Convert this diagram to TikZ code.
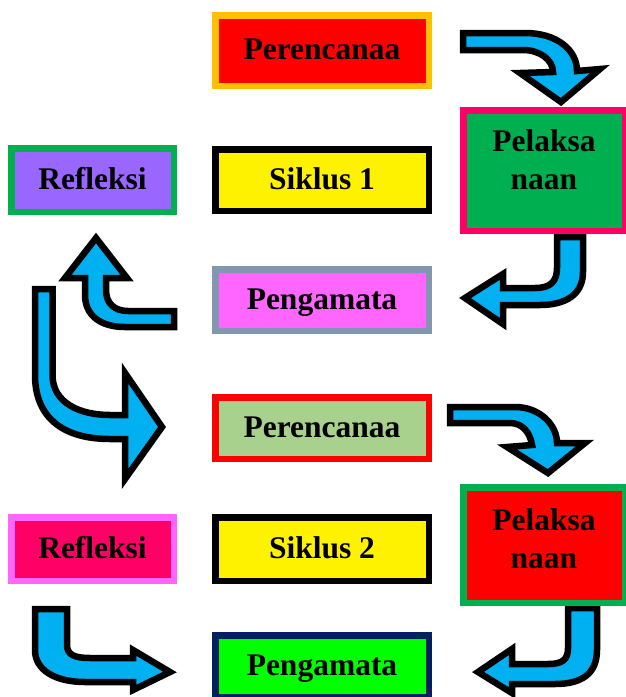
\documentclass[tikz,border=0pt]{standalone}
\usepackage{fontspec}
\setmainfont{Liberation Serif}
\usepackage{xcolor}
\usepackage{tikz}
\usetikzlibrary{positioning}

\definecolor{arrowblue}{HTML}{00B0F0}
\definecolor{gold}{HTML}{FFC000}
\definecolor{leaf}{HTML}{00B050}
\definecolor{violet}{HTML}{9966FF}
\definecolor{rose}{HTML}{FF0066}
\definecolor{pinkish}{HTML}{FF66FF}
\definecolor{slate}{HTML}{8497B0}
\definecolor{sage}{HTML}{A9D18E}
\definecolor{navy}{HTML}{002060}
\definecolor{lime}{HTML}{00FF00}

\begin{document}
\begin{tikzpicture}[
  x=1pt, y=-1pt,
  node distance=35pt,
  boxbase/.style={draw, line width=6.5pt, align=center,
    font=\fontsize{31.5}{38}\selectfont\bfseries, inner sep=0pt},
  box/.style={boxbase, minimum width=213.5pt, minimum height=61.5pt,
    text height=24pt, text depth=6pt},
  sidebox/.style={box, minimum width=162.5pt, minimum height=63.5pt},
  bigbox/.style={boxbase, minimum width=161.5pt},
  bent/.style={fill=arrowblue, draw=black, line width=6.5pt, line join=miter}
]
\useasboundingbox (0,0) rectangle (626,697);

\draw[bent] (463,33) -- (525,33) .. controls (557,33) and (577,50) .. (577,71)
  -- (600,69) -- (561,102) -- (520,73) -- (553,72)
  .. controls (553,60) and (540,50) .. (523,50) -- (463,50) -- cycle;
\draw[bent] (557,237) -- (583,237) -- (583,272)
  .. controls (583,295) and (565,305) .. (540,305) -- (503,305) -- (503,324)
  -- (465,298) -- (503,274) -- (503,288) -- (535,288)
  .. controls (550,288) and (557,282) .. (557,268) -- cycle;
\draw[bent] (174,311) -- (128,311) .. controls (114,311) and (106,303) .. (106,290)
  -- (106,278) -- (127,278) -- (96,238) -- (65,278) -- (85,278) -- (85,295)
  .. controls (85,315) and (100,327) .. (125,327) -- (174,327) -- cycle;
\draw[bent] (35,289) -- (52.5,289) -- (52.5,375)
  .. controls (52.5,403) and (80,415) .. (110,415) -- (125,415) -- (125,373)
  -- (162,427) -- (125,479) -- (125,439) -- (110,439)
  .. controls (60,439) and (35,415) .. (35,375) -- cycle;
\draw[bent] (450,407) -- (515,407) .. controls (540,407) and (557,425) .. (557,443)
  -- (585,443) -- (548,473) -- (507,447) -- (532,445)
  .. controls (530,432) and (522,423) .. (510,423) -- (450,423) -- cycle;
\draw[bent] (568,608) -- (597,608) -- (597,650)
  .. controls (597,675) and (580,684) .. (555,684) -- (512,684) -- (512,693)
  -- (478,672) -- (512,649) -- (512,664) -- (548,664)
  .. controls (562,664) and (568,660) .. (568,648) -- cycle;
\draw[bent] (35,609) -- (67,609) -- (67,645) .. controls (67,655) and (75,658) .. (90,658)
  -- (133,658) -- (133,650) -- (170,672) -- (133,690) -- (133,682) -- (85,682)
  .. controls (55,682) and (35,670) .. (35,650) -- cycle;

\node[box, draw=gold, fill=red, minimum height=70.5pt] (plan1) at (322,50.5) {Perencanaa};
\node[box, draw=black, fill=yellow] (cycle1) at (322,180) {Siklus 1};
\node[sidebox, draw=leaf, fill=violet, left=of cycle1] (reflect1) {Refleksi};
\node[bigbox, draw=rose, fill=leaf, minimum height=120.5pt] (act1) at (544,170.5)
  {Pelaksa\\naan\rule[-22pt]{0pt}{22pt}};
\node[box, draw=slate, fill=pinkish] (observe1) at (322,300) {Pengamata};

\node[box, draw=red, fill=sage] (plan2) at (322,428) {Perencanaa};
\node[bigbox, draw=leaf, fill=red, minimum height=115.5pt] (act2) at (544,545)
  {Pelaksa\\naan\rule[-13pt]{0pt}{13pt}};
\node[box, draw=black, fill=yellow, minimum height=63.5pt] (cycle2) at (322,549) {Siklus 2};
\node[sidebox, draw=pinkish, fill=rose, left=of cycle2] (reflect2) {Refleksi};
\node[box, draw=navy, fill=lime] (observe2) at (322,666) {Pengamata};
\end{tikzpicture}
\end{document}
